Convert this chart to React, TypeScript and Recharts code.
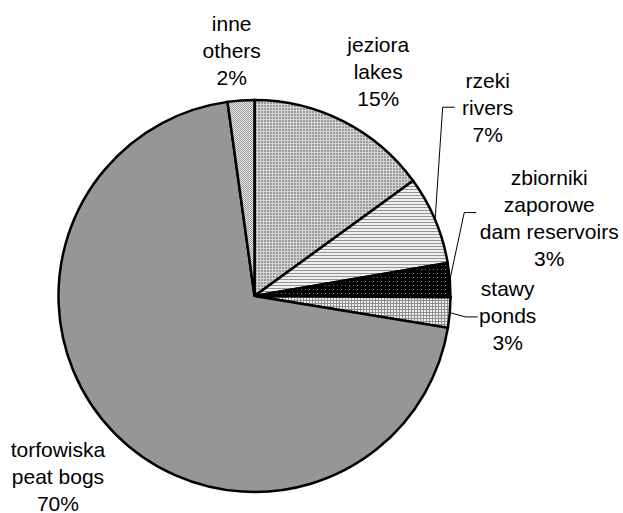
import React from 'react';
import { PieChart, Pie, Cell } from 'recharts';

// udział powierzchni wód (share of water area)
const namesPl = [['jeziora'], ['rzeki'], ['zbiorniki', 'zaporowe'], ['stawy'], ['torfowiska'], ['inne']];
const namesEn = ['lakes', 'rivers', 'dam reservoirs', 'ponds', 'peat bogs', 'others'];
const shares = [15.0, 7.3, 2.8, 2.5, 70.2, 2.2];
const shareLabels = ['15%', '7%', '3%', '3%', '70%', '2%'];

const data = shares.map((v, i) => ({
  name: namesEn[i],
  value: v,
  lines: [...namesPl[i], namesEn[i], shareLabels[i]],
}));

const FILLS = ['url(#pLakes)', 'url(#pRivers)', 'url(#pDams)', 'url(#pPonds)', '#969696', 'url(#pOthers)'];

// where each label block sits: angle (deg) and distance from the pie centre,
// plus an optional leader line end relative to the label centre
const LABEL_LAYOUT = [
  { angle: 61.1, dist: 256 },
  { angle: 39.0, dist: 300, leader: { dx: -33, dy: 0 } },
  { angle: 14.9, dist: 305, leader: { dx: -73, dy: -5 } },
  { angle: -4.5, dist: 254, leader: { dx: -30, dy: 1 } },
  { angle: -137.4, dist: 267 },
  { angle: 95.3, dist: 247 },
];

const FONT = 21;
const LINE_H = 27;
const RAD = Math.PI / 180;

const renderLabel = (props: any) => {
  const { cx, cy, midAngle, outerRadius, index } = props;
  const lay = LABEL_LAYOUT[index];
  const lines: string[] = data[index].lines;
  const lx = cx + lay.dist * Math.cos(lay.angle * RAD);
  const ly = cy - lay.dist * Math.sin(lay.angle * RAD);
  const top = ly - ((lines.length - 1) / 2) * LINE_H + FONT * 0.36;

  let leader = null;
  if (lay.leader) {
    const sx = cx + outerRadius * Math.cos(midAngle * RAD);
    const sy = cy - outerRadius * Math.sin(midAngle * RAD);
    const ex = lx + lay.leader.dx;
    const ey = ly + lay.leader.dy;
    leader = (
      <polyline
        points={`${sx},${sy} ${ex - 12},${ey} ${ex},${ey}`}
        fill="none"
        stroke="#000"
        strokeWidth={1}
      />
    );
  }

  return (
    <g key={`lbl-${index}`}>
      {leader}
      <text
        x={lx}
        y={top}
        textAnchor="middle"
        fontFamily="'Liberation Sans', Arial, sans-serif"
        fontSize={FONT}
        fill="#000"
      >
        {lines.map((t, i) => (
          <tspan key={i} x={lx} y={top + i * LINE_H}>
            {t}
          </tspan>
        ))}
      </text>
    </g>
  );
};

export default function App() {
  return (
    <div style={{ position: 'fixed', left: 0, top: 0, background: '#fff' }}>
      <PieChart width={623} height={513} margin={{ top: 0, right: 0, bottom: 0, left: 0 }}>
        <defs>
          <pattern id="pLakes" width="3" height="3" patternUnits="userSpaceOnUse">
            <rect width="3" height="3" fill="#d4d4d4" />
            <rect width="2" height="2" fill="#9a9a9a" />
          </pattern>
          <pattern id="pRivers" width="2" height="3" patternUnits="userSpaceOnUse">
            <rect width="2" height="3" fill="#efefef" />
            <rect width="2" height="1" fill="#959595" />
          </pattern>
          <pattern id="pDams" width="4" height="4" patternUnits="userSpaceOnUse">
            <rect width="4" height="4" fill="#000" />
            <rect x="1" y="1" width="1" height="1" fill="#8a8a8a" />
          </pattern>
          <pattern id="pPonds" width="3" height="3" patternUnits="userSpaceOnUse">
            <rect width="3" height="3" fill="#8c8c8c" />
            <rect x="1" y="1" width="2" height="2" fill="#f0f0f0" />
          </pattern>
          <pattern id="pOthers" width="2" height="2" patternUnits="userSpaceOnUse">
            <rect width="2" height="2" fill="#e8e8e8" />
            <rect width="1" height="1" fill="#9c9c9c" />
            <rect x="1" y="1" width="1" height="1" fill="#9c9c9c" />
          </pattern>
        </defs>
        <Pie
          data={data}
          dataKey="value"
          nameKey="name"
          cx={254.5}
          cy={296}
          outerRadius={196}
          startAngle={90}
          endAngle={-270}
          stroke="#000"
          strokeWidth={2.5}
          label={renderLabel}
          labelLine={false}
          isAnimationActive={false}
        >
          {data.map((d, i) => (
            <Cell key={d.name} fill={FILLS[i]} />
          ))}
        </Pie>
      </PieChart>
    </div>
  );
}
